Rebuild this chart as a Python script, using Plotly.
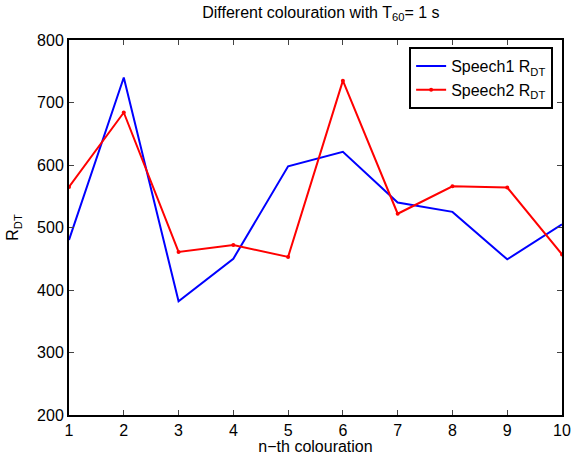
import plotly.graph_objects as go

x = [1, 2, 3, 4, 5, 6, 7, 8, 9, 10]
speech1 = [480, 740, 382, 450, 598, 621, 540, 525, 449, 505]
speech2 = [565, 684, 461, 472, 453, 735, 522, 566, 564, 457]
xticks = [1, 2, 3, 4, 5, 6, 7, 8, 9, 10]
yticks = [200, 300, 400, 500, 600, 700, 800]

fig = go.Figure()
fig.add_trace(go.Scatter(x=x, y=speech1, mode="lines", name="Speech1 R<sub>DT</sub>",
                         line=dict(color="#0000ff", width=2)))
fig.add_trace(go.Scatter(x=x, y=speech2, mode="lines+markers", name="Speech2 R<sub>DT</sub>",
                         line=dict(color="#ff0000", width=2),
                         marker=dict(size=4, color="#ff0000")))

font = dict(family="Liberation Sans, Arial, sans-serif", size=16, color="black")
fig.update_layout(
    width=572, height=455,
    margin=dict(l=69, r=10, t=40, b=40, autoexpand=False),
    paper_bgcolor="white", plot_bgcolor="white",
    font=font,
    title=dict(text="Different colouration with T<sub>60</sub>= 1 s", x=0.561, xanchor="center",
               y=0.985, yanchor="top", font=dict(size=16)),
    legend=dict(x=0.982, y=0.981, xanchor="right", yanchor="top",
                bordercolor="black", borderwidth=2, bgcolor="white",
                font=dict(size=16), tracegroupgap=0, itemwidth=30),
    showlegend=True,
)
fig.update_xaxes(range=[1, 10], tickvals=xticks, ticks="inside", ticklen=5,
                 showline=True, linecolor="black", linewidth=2, mirror="ticks",
                 showgrid=False, zeroline=False, automargin=False,
                 title=dict(text="n\u2212th colouration", standoff=0, font=dict(size=16)))
fig.update_yaxes(range=[200, 800], tickvals=yticks, ticks="inside", ticklen=5,
                 showline=True, linecolor="black", linewidth=2, mirror="ticks",
                 showgrid=False, zeroline=False, automargin=False,
                 title=dict(text="R<sub>DT</sub>", standoff=14, font=dict(size=16)))

fig.write_html("out.html")
